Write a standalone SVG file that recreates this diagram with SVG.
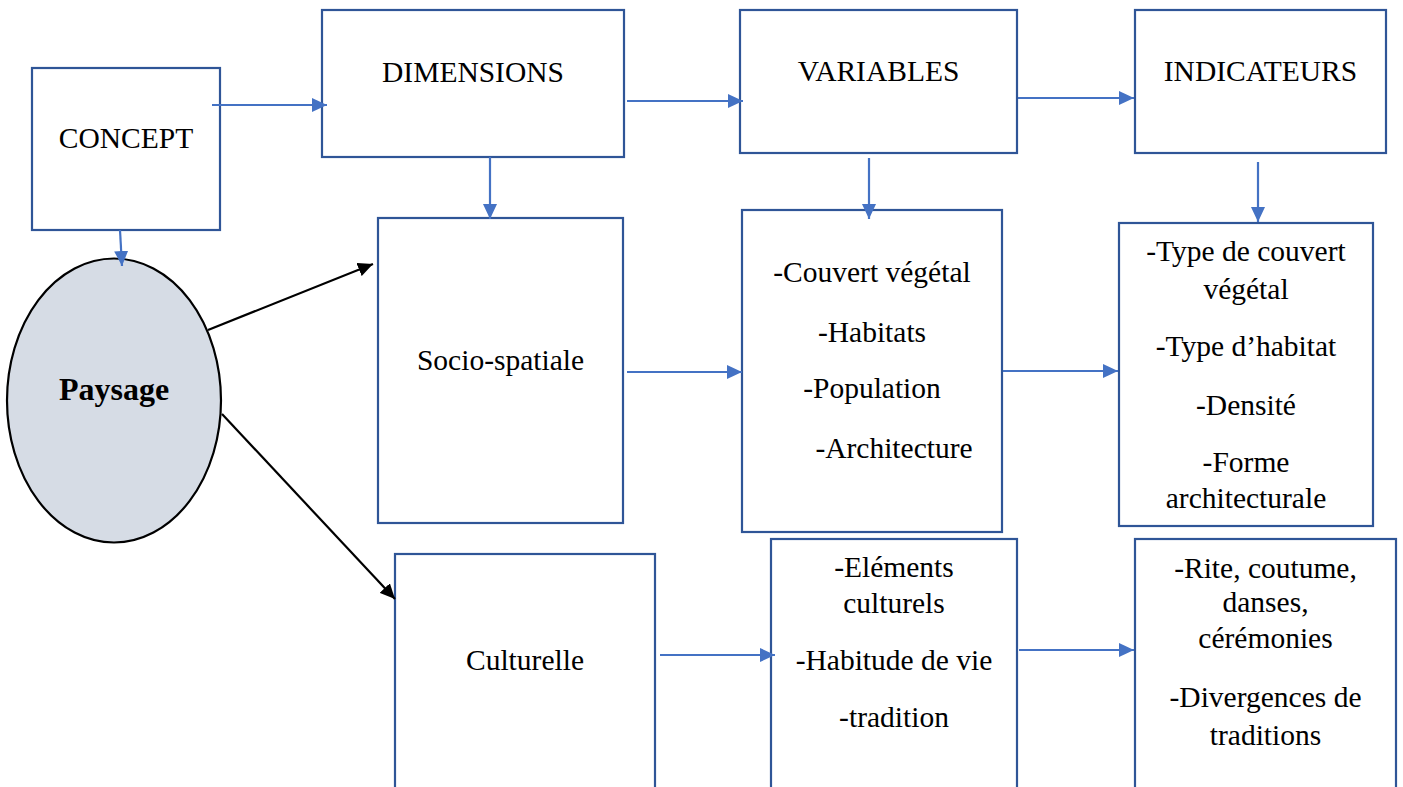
<svg xmlns="http://www.w3.org/2000/svg" width="1403" height="787" viewBox="0 0 1403 787">
<defs>
<style>
.box{fill:#fff;stroke:#2F5597;stroke-width:2.2}
.t{font-family:"Liberation Serif","Times New Roman",serif;font-size:29.5px;fill:#000;text-anchor:middle}
.b{font-weight:bold;font-size:32px}
.blue{stroke:#4472C4;stroke-width:2.2;fill:none;marker-end:url(#ab)}
.blk{stroke:#000;stroke-width:2.2;fill:none;marker-end:url(#ak)}
</style>
<marker id="ab" markerUnits="userSpaceOnUse" markerWidth="16" markerHeight="14" refX="15" refY="7" orient="auto"><path d="M0,0 L15,7 L0,14 Z" fill="#4472C4"/></marker>
<marker id="ak" markerUnits="userSpaceOnUse" markerWidth="16" markerHeight="14" refX="15" refY="7" orient="auto"><path d="M0,0 L15,7 L0,14 Z" fill="#000"/></marker>
</defs>
<rect width="1403" height="787" fill="#fff"/>
<g id="concept"><rect class="box" x="32" y="68" width="188" height="162"/><text class="t" x="126" y="148">CONCEPT</text></g>
<g id="dimensions"><rect class="box" x="322" y="10" width="302" height="147"/><text class="t" x="473" y="82">DIMENSIONS</text></g>
<g id="variables"><rect class="box" x="740" y="10" width="277" height="143"/><text class="t" x="878.5" y="81">VARIABLES</text></g>
<g id="indicateurs"><rect class="box" x="1135" y="10" width="251" height="143"/><text class="t" x="1260.5" y="81">INDICATEURS</text></g>
<g id="paysage"><ellipse cx="114" cy="400.5" rx="107" ry="142" fill="#D6DCE5" stroke="#000" stroke-width="2.2"/><text class="t b" x="114" y="400">Paysage</text></g>
<g id="socio"><rect class="box" x="378" y="218" width="245" height="305"/><text class="t" x="500.5" y="370">Socio-spatiale</text></g>
<g id="var-socio"><rect class="box" x="742" y="210" width="260" height="322"/>
<text class="t" x="872" y="282">-Couvert végétal</text>
<text class="t" x="872" y="342">-Habitats</text>
<text class="t" x="872" y="398">-Population</text>
<text class="t" x="894" y="458">-Architecture</text></g>
<g id="ind-socio"><rect class="box" x="1119" y="223" width="254" height="303"/>
<text class="t" x="1246" y="261">-Type de couvert</text>
<text class="t" x="1246" y="299">végétal</text>
<text class="t" x="1246" y="356">-Type d’habitat</text>
<text class="t" x="1246" y="415">-Densité</text>
<text class="t" x="1246" y="472">-Forme</text>
<text class="t" x="1246" y="508">architecturale</text></g>
<g id="culturelle"><rect class="box" x="395" y="554" width="260" height="260"/><text class="t" x="525" y="670">Culturelle</text></g>
<g id="var-cult"><rect class="box" x="771" y="539" width="246" height="270"/>
<text class="t" x="894" y="577">-Eléments</text>
<text class="t" x="894" y="613">culturels</text>
<text class="t" x="894" y="670">-Habitude de vie</text>
<text class="t" x="894" y="727">-tradition</text></g>
<g id="ind-cult"><rect class="box" x="1135" y="539" width="261" height="270"/>
<text class="t" x="1265.5" y="578">-Rite, coutume,</text>
<text class="t" x="1265.5" y="612">danses,</text>
<text class="t" x="1265.5" y="648">cérémonies</text>
<text class="t" x="1265.5" y="707">-Divergences de</text>
<text class="t" x="1265.5" y="745">traditions</text></g>
<g id="connectors">
<line class="blue" x1="212" y1="105" x2="327" y2="105"/>
<line class="blue" x1="627" y1="101" x2="743" y2="101"/>
<line class="blue" x1="1018" y1="98" x2="1134" y2="98"/>
<line class="blue" x1="120" y1="230" x2="122" y2="266"/>
<line class="blue" x1="490" y1="157" x2="490" y2="219"/>
<line class="blue" x1="869" y1="158" x2="869" y2="219"/>
<line class="blue" x1="1258" y1="162" x2="1258" y2="222"/>
<line class="blue" x1="627" y1="372" x2="742" y2="372"/>
<line class="blue" x1="1003" y1="371" x2="1118" y2="371"/>
<line class="blue" x1="660" y1="655" x2="775" y2="655"/>
<line class="blue" x1="1019" y1="650" x2="1134" y2="650"/>
<line class="blk" x1="208" y1="330" x2="373" y2="264"/>
<line class="blk" x1="222" y1="414" x2="395" y2="599"/>
</g>
</svg>
